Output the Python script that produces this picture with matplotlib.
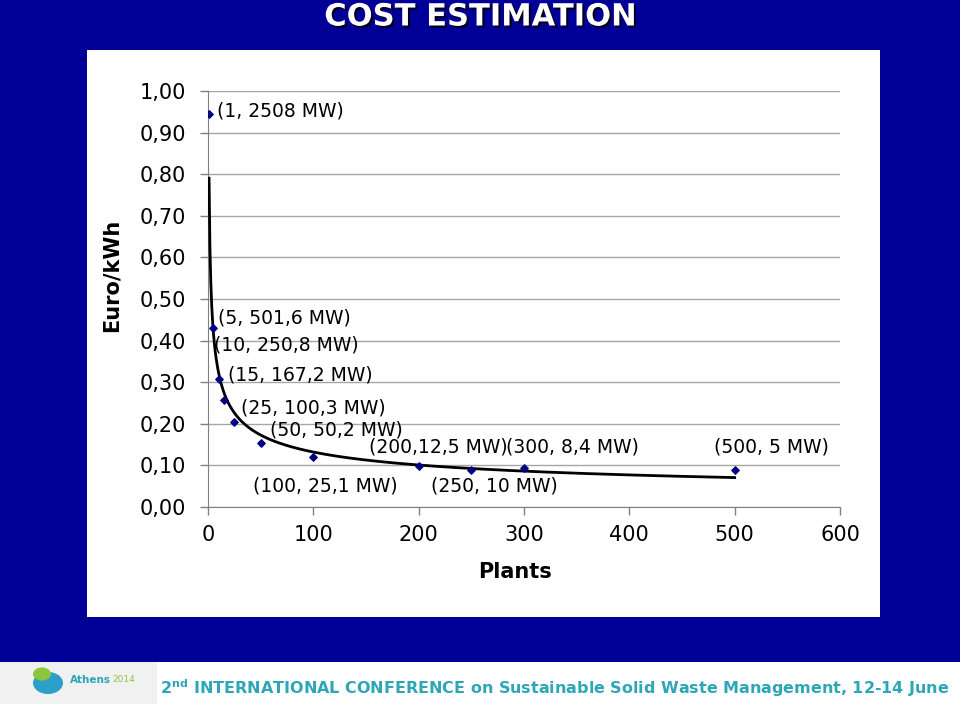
"""Cost estimation slide: Euro/kWh against number of plants, with power trendline."""

import matplotlib

matplotlib.use("Agg")
import matplotlib.patheffects as pe
import matplotlib.pyplot as plt
import numpy as np
from matplotlib.patches import Circle, Rectangle

plants = [1, 5, 10, 15, 25, 50, 100, 200, 250, 300, 500]
euro_kwh = [0.945, 0.430, 0.308, 0.257, 0.204, 0.153, 0.120, 0.099, 0.090, 0.093, 0.088]
point_labels = [
    "(1, 2508 MW)", "(5, 501,6 MW)", "(10, 250,8 MW)", "(15, 167,2 MW)",
    "(25, 100,3 MW)", "(50, 50,2 MW)", "(100, 25,1 MW)", "(200,12,5 MW)",
    "(250, 10 MW)", "(300, 8,4 MW)", "(500, 5 MW)",
]
y_ticks = [0.0, 0.1, 0.2, 0.3, 0.4, 0.5, 0.6, 0.7, 0.8, 0.9, 1.0]
y_ticklabels = ["0,00", "0,10", "0,20", "0,30", "0,40", "0,50", "0,60", "0,70", "0,80", "0,90", "1,00"]
x_ticks = [0, 100, 200, 300, 400, 500, 600]

# label offsets in pixels (dx, dy) from the marker, with horizontal alignment
label_offsets = [
    (8, 3, "left"), (5, 10, "left"), (-5, 34, "left"), (4, 25, "left"),
    (7, 14, "left"), (9, 13, "left"), (-60, -29, "left"), (-50, 19, "left"),
    (-40, -16, "left"), (-18, 21, "left"), (-21, 23, "left"),
]

BLUE = "#000099"
TEAL = "#2ea6b6"
PX = 0.72  # points per pixel at dpi 100

fig = plt.figure(figsize=(9.6, 7.04), dpi=100, facecolor=BLUE)

# white chart panel and footer band
fig.patches.append(Rectangle((87 / 960, 1 - 617 / 704), 793 / 960, 567 / 704,
                             transform=fig.transFigure, facecolor="white", edgecolor="none", zorder=-2))
fig.patches.append(Rectangle((0, 0), 1, 42 / 704, transform=fig.transFigure,
                             facecolor="white", edgecolor="none", zorder=-2))
fig.patches.append(Rectangle((0, 0), 157 / 960, 42 / 704, transform=fig.transFigure,
                             facecolor="#f1f1f1", edgecolor="none", zorder=-1))

fig.text(0.5, 1 - 17 / 704, "COST ESTIMATION", color="white", fontsize=22, fontweight="bold",
         ha="center", va="center",
         path_effects=[pe.withSimplePatchShadow(offset=(1.5, -1.5), shadow_rgbFace="black", alpha=0.8)])

ax = fig.add_axes([208 / 960, 1 - 507 / 704, 632 / 960, 416 / 704])
ax.set_zorder(2)
ax.set_facecolor("none")
ax.set_xlim(0, 600)
ax.set_ylim(0, 1)

# power trendline fitted in log-log space, as the spreadsheet does
b, log_a = np.polyfit(np.log(plants), np.log(euro_kwh), 1)
xs = np.linspace(plants[0], plants[-1], 600)
ax.plot(xs, np.exp(log_a) * xs ** b, color="black", linewidth=2, zorder=3)

ax.scatter(plants, euro_kwh, marker="D", s=14, color="#000080", zorder=4)

for x, y, text, (dx, dy, ha) in zip(plants, euro_kwh, point_labels, label_offsets):
    ax.annotate(text, (x, y), xytext=(dx * PX, dy * PX), textcoords="offset points",
                fontsize=13.5, ha=ha, va="center", color="black", zorder=5)

ax.set_yticks(y_ticks)
ax.set_yticklabels(y_ticklabels)
ax.set_xticks(x_ticks)
ax.grid(axis="y", color="#a6a6a6", linewidth=1)
ax.set_axisbelow(True)
for side in ("top", "right"):
    ax.spines[side].set_visible(False)
for side in ("left", "bottom"):
    ax.spines[side].set_color("#808080")
ax.tick_params(axis="both", colors="#808080", labelcolor="black", labelsize=15, length=6, width=1)
ax.tick_params(axis="y", pad=10)
ax.tick_params(axis="x", pad=7)

fig.text(112 / 960, 1 - 275 / 704, "Euro/kWh", rotation=90, fontsize=15, fontweight="bold",
         ha="center", va="center")
fig.text(515 / 960, 1 - 572 / 704, "Plants", fontsize=15, fontweight="bold", ha="center", va="center")

# footer logo and conference line
fig.patches.append(Circle((48 / 960, 1 - 683 / 704), 15 / 960, transform=fig.transFigure,
                          facecolor="#2a9fc9", edgecolor="none", zorder=1))
fig.patches.append(Circle((42 / 960, 1 - 674 / 704), 9 / 960, transform=fig.transFigure,
                          facecolor="#8cc63f", edgecolor="none", zorder=2))
fig.text(70 / 960, 1 - 680 / 704, "Athens", color="#2aa6b8", fontsize=7.5, fontweight="bold",
         ha="left", va="center")
fig.text(112 / 960, 1 - 680 / 704, "2014", color="#8cc63f", fontsize=6.5,
         ha="left", va="center")
fig.text(160 / 960, 1 - 688 / 704,
         r"2$^{\mathbf{nd}}$ INTERNATIONAL CONFERENCE on Sustainable Solid Waste Management, 12-14 June",
         color=TEAL, fontsize=11.5, fontweight="bold", ha="left", va="center")

fig.savefig("out.png", dpi=100, facecolor=BLUE)
